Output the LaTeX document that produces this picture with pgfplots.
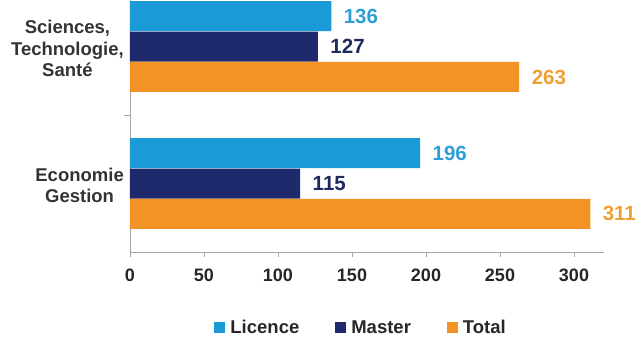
\documentclass[border=0pt]{standalone}
\usepackage{pgfplots}
\pgfplotsset{compat=1.18}
\usepackage{fontspec}
\setmainfont{Liberation Sans}
\definecolor{lic}{HTML}{1A9BD7}
\definecolor{mas}{HTML}{1F2A6C}
\definecolor{tot}{HTML}{F39325}
\definecolor{licT}{HTML}{2E9FD5}
\definecolor{masT}{HTML}{1F2A5C}
\definecolor{totT}{HTML}{EFA034}
\definecolor{axgray}{HTML}{A6A6A6}
\pgfplotsset{sq/.style={legend image code/.code={\fill[##1] (0pt,-5.5pt) rectangle (11pt,5.5pt);}}}
\begin{document}
\begin{tikzpicture}
\begin{axis}[name=ax,
 xbar, scale only axis, width=473.6pt, height=252pt,
 xmin=0, xmax=320, ymin=-0.5, ymax=1.34,
 enlargelimits=false,
 bar width=0.219,
 axis x line*=bottom, axis y line*=left,
 axis line style={draw=axgray, line width=0.8pt, -},
 xtick={0,50,...,300},
 tick align=outside,
 major tick length=5pt,
 x tick style={draw=axgray, line width=0.8pt},
 ytick={0,1}, yticklabels={{Economie\\Gestion},{Sciences,\\Technologie,\\Santé}},
 y tick style={draw=none},
 extra y ticks={0.5}, extra y tick labels={},
 extra y tick style={y tick style={draw=axgray, line width=0.8pt}, major tick length=6pt},
 /pgf/number format/assume math mode=true,
 xticklabel style={font=\fontsize{18}{21}\selectfont\bfseries, text=black!85, yshift=-8pt},
 yticklabel style={font=\fontsize{18.5}{21.5}\selectfont\bfseries, text=black!80, align=center, inner sep=1pt, yshift=-2pt},
 point meta=x,
 nodes near coords,
 nodes near coords style={anchor=west, xshift=9pt, font=\fontsize{20.5}{24}\selectfont\bfseries},
 legend style={at={(0.488,-0.30)}, anchor=center, draw=none, fill=none, legend columns=3,
   font=\fontsize{18.5}{21}\selectfont\bfseries, text=black!85,
   /tikz/every odd column/.append style={column sep=3pt},
   /tikz/every even column/.append style={column sep=34pt}},
]
\addplot[sq, fill=lic, draw=none, bar shift=0.222, nodes near coords style={text=licT}] coordinates {(136,1) (196,0)};
\addplot[sq, fill=mas, draw=none, bar shift=0, nodes near coords style={text=masT}] coordinates {(127,1) (115,0)};
\addplot[sq, fill=tot, draw=none, bar shift=-0.222, nodes near coords style={text=totT}] coordinates {(263,1) (311,0)};
\legend{Licence, Master, Total}
\end{axis}
\pgfresetboundingbox
\path[use as bounding box] ([xshift=-130pt,yshift=-88pt]ax.south west) rectangle ++(637pt,340pt);
\end{tikzpicture}
\end{document}
